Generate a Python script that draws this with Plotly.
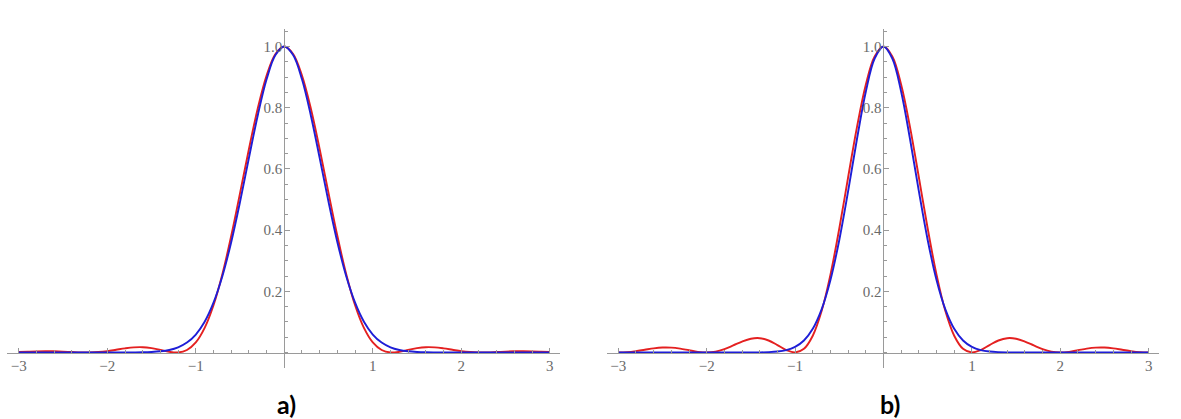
import plotly.graph_objects as go

# sample positions along the x axis
x_vals = [-3.0, -2.9, -2.8, -2.7, -2.6, -2.5, -2.4, -2.3, -2.2, -2.1,
          -2.0, -1.9, -1.8, -1.7, -1.6, -1.5, -1.4, -1.3, -1.2, -1.1,
          -1.0, -0.9, -0.8, -0.7, -0.6, -0.5, -0.4, -0.3, -0.2, -0.1,
          0.0, 0.1, 0.2, 0.3, 0.4, 0.5, 0.6, 0.7, 0.8, 0.9,
          1.0, 1.1, 1.2, 1.3, 1.4, 1.5, 1.6, 1.7, 1.8, 1.9,
          2.0, 2.1, 2.2, 2.3, 2.4, 2.5, 2.6, 2.7, 2.8, 2.9, 3.0]

# panel a) – diffraction profile (red) and its Gaussian approximation (blue)
red_a = [0.0014, 0.0026, 0.0036, 0.0041, 0.0039, 0.0029, 0.0015, 0.0003, 0.0001, 0.0014,
         0.0045, 0.0090, 0.0135, 0.0168, 0.0173, 0.0142, 0.0084, 0.0023, 0.0002, 0.0081,
         0.0328, 0.0803, 0.1544, 0.2558, 0.3806, 0.5209, 0.6645, 0.7975, 0.9053, 0.9756,
         1.0, 0.9756, 0.9053, 0.7975, 0.6645, 0.5209, 0.3806, 0.2558, 0.1544, 0.0803,
         0.0328, 0.0081, 0.0002, 0.0023, 0.0084, 0.0142, 0.0173, 0.0168, 0.0135, 0.0090,
         0.0045, 0.0014, 0.0001, 0.0003, 0.0015, 0.0029, 0.0039, 0.0041, 0.0036, 0.0026, 0.0014]
blue_a = [0.0, 0.0, 0.0, 0.0, 0.0, 0.0, 0.0, 0.0, 0.0, 0.0,
          0.0, 0.0, 0.0001, 0.0003, 0.0007, 0.0017, 0.0039, 0.0083, 0.0169, 0.0324,
          0.0588, 0.1007, 0.1630, 0.2494, 0.3605, 0.4924, 0.6354, 0.7748, 0.8928, 0.9721,
          1.0, 0.9721, 0.8928, 0.7748, 0.6354, 0.4924, 0.3605, 0.2494, 0.1630, 0.1007,
          0.0588, 0.0324, 0.0169, 0.0083, 0.0039, 0.0017, 0.0007, 0.0003, 0.0001, 0.0,
          0.0, 0.0, 0.0, 0.0, 0.0, 0.0, 0.0, 0.0, 0.0, 0.0, 0.0]

# panel b) – slit profile (red) and its Gaussian approximation (blue)
red_b = [0.0, 0.0012, 0.0045, 0.0091, 0.0136, 0.0162, 0.0159, 0.0125, 0.0072, 0.0022,
         0.0, 0.0027, 0.0108, 0.0230, 0.0358, 0.0450, 0.0468, 0.0392, 0.0243, 0.0080,
         0.0, 0.0119, 0.0547, 0.1353, 0.2546, 0.4053, 0.5728, 0.7368, 0.8751, 0.9675,
         1.0, 0.9675, 0.8751, 0.7368, 0.5728, 0.4053, 0.2546, 0.1353, 0.0547, 0.0119,
         0.0, 0.0080, 0.0243, 0.0392, 0.0468, 0.0450, 0.0358, 0.0230, 0.0108, 0.0027,
         0.0, 0.0022, 0.0072, 0.0125, 0.0159, 0.0162, 0.0136, 0.0091, 0.0045, 0.0012, 0.0]
blue_b = [0.0, 0.0, 0.0, 0.0, 0.0, 0.0, 0.0, 0.0, 0.0, 0.0,
          0.0, 0.0, 0.0, 0.0, 0.0, 0.0001, 0.0004, 0.0012, 0.0032, 0.0079,
          0.0183, 0.0392, 0.0773, 0.1409, 0.2369, 0.3679, 0.5273, 0.6977, 0.8521, 0.9608,
          1.0, 0.9608, 0.8521, 0.6977, 0.5273, 0.3679, 0.2369, 0.1409, 0.0773, 0.0392,
          0.0183, 0.0079, 0.0032, 0.0012, 0.0004, 0.0001, 0.0, 0.0, 0.0, 0.0,
          0.0, 0.0, 0.0, 0.0, 0.0, 0.0, 0.0, 0.0, 0.0, 0.0, 0.0]

x_tick_vals = [-3, -2, -1, 1, 2, 3]
x_tick_text = ["\u22123", "\u22122", "\u22121", "1", "2", "3"]
y_tick_vals = [0.2, 0.4, 0.6, 0.8, 1.0]
y_tick_text = ["0.2", "0.4", "0.6", "0.8", "1.0"]
panel_labels = ["a)", "b)"]

W, H = 1181, 419
X_RANGE = [-3.13, 3.12]
Y_RANGE = [-0.05, 1.056]
Y_DOMAIN = [1 - 367.8 / H, 1 - 29.4 / H]
X_DOMAINS = [[7.3 / W, 560.4 / W], [606.8 / W, 1159.3 / W]]

AXIS_COLOR = "#9a9a9a"
LABEL_COLOR = "#6a6a6a"
TICK_FONT = dict(family="Liberation Serif, serif", size=15, color=LABEL_COLOR)
RED = "rgb(228,32,32)"
BLUE = "rgb(30,30,215)"

fig = go.Figure()

panels = [(red_a, blue_a), (red_b, blue_b)]
for i, (red, blue) in enumerate(panels):
    xa = "x" if i == 0 else "x2"
    ya = "y" if i == 0 else "y2"
    fig.add_trace(go.Scatter(x=x_vals, y=red, mode="lines", xaxis=xa, yaxis=ya,
                             line=dict(color=RED, width=1.9, shape="spline", smoothing=1.0),
                             hoverinfo="skip", showlegend=False))
    fig.add_trace(go.Scatter(x=x_vals, y=blue, mode="lines", xaxis=xa, yaxis=ya,
                             line=dict(color=BLUE, width=1.9, shape="spline", smoothing=1.0),
                             hoverinfo="skip", showlegend=False))

layout = dict(width=W, height=H, margin=dict(l=0, r=0, t=0, b=0),
              paper_bgcolor="white", plot_bgcolor="white", showlegend=False)

annotations = []
for i, dom in enumerate(X_DOMAINS):
    sfx = "" if i == 0 else str(i + 1)
    # paper position of the data origin, so the axes cross at (0, 0)
    y0_paper = Y_DOMAIN[0] + (0 - Y_RANGE[0]) / (Y_RANGE[1] - Y_RANGE[0]) * (Y_DOMAIN[1] - Y_DOMAIN[0])
    x0_paper = dom[0] + (0 - X_RANGE[0]) / (X_RANGE[1] - X_RANGE[0]) * (dom[1] - dom[0])
    layout["xaxis" + sfx] = dict(
        domain=dom, range=X_RANGE, anchor="free", position=y0_paper,
        showgrid=False, zeroline=False, showline=True, linecolor=AXIS_COLOR, linewidth=1,
        tickmode="array", tickvals=x_tick_vals, ticktext=x_tick_text,
        ticks="inside", ticklen=4.5, tickcolor=AXIS_COLOR, tickwidth=1,
        tickfont=TICK_FONT, ticklabelstandoff=-1,
        minor=dict(dtick=0.2, tick0=0, ticks="inside", ticklen=2.5,
                   tickcolor=AXIS_COLOR, tickwidth=1, showgrid=False),
        fixedrange=True)
    layout["yaxis" + sfx] = dict(
        domain=Y_DOMAIN, range=Y_RANGE, anchor="free", position=x0_paper,
        showgrid=False, zeroline=False, showline=True, linecolor=AXIS_COLOR, linewidth=1,
        tickmode="array", tickvals=y_tick_vals, ticktext=y_tick_text,
        ticks="inside", ticklen=4.5, tickcolor=AXIS_COLOR, tickwidth=1,
        tickfont=TICK_FONT, ticklabelstandoff=-1,
        minor=dict(dtick=0.05, tick0=0, ticks="inside", ticklen=2.5,
                   tickcolor=AXIS_COLOR, tickwidth=1, showgrid=False),
        fixedrange=True)
    xr = "x" + ("" if i == 0 else str(i + 1))
    yr = "y" + ("" if i == 0 else str(i + 1))
    annotations.append(dict(x=3.25, y=0, xref=xr, yref=yr, text="x", showarrow=False,
                            xanchor="center", yanchor="middle",
                            font=dict(family="Liberation Serif, serif", size=16, color=LABEL_COLOR)))
    annotations.append(dict(x=0, y=1.108, xref=xr, yref=yr, text="y", showarrow=False,
                            xanchor="center", yanchor="middle",
                            font=dict(family="Liberation Serif, serif", size=16, color=LABEL_COLOR)))
    annotations.append(dict(x=0.03 if i == 0 else 0.07, y=1 - 404 / H, xref=xr, yref="paper",
                            text="<b>%s</b>" % panel_labels[i], showarrow=False,
                            xanchor="center", yanchor="middle",
                            font=dict(family="Lato", size=25, color="black")))

layout["annotations"] = annotations
fig.update_layout(**layout)
fig.write_html("out.html", config=dict(displayModeBar=False))
